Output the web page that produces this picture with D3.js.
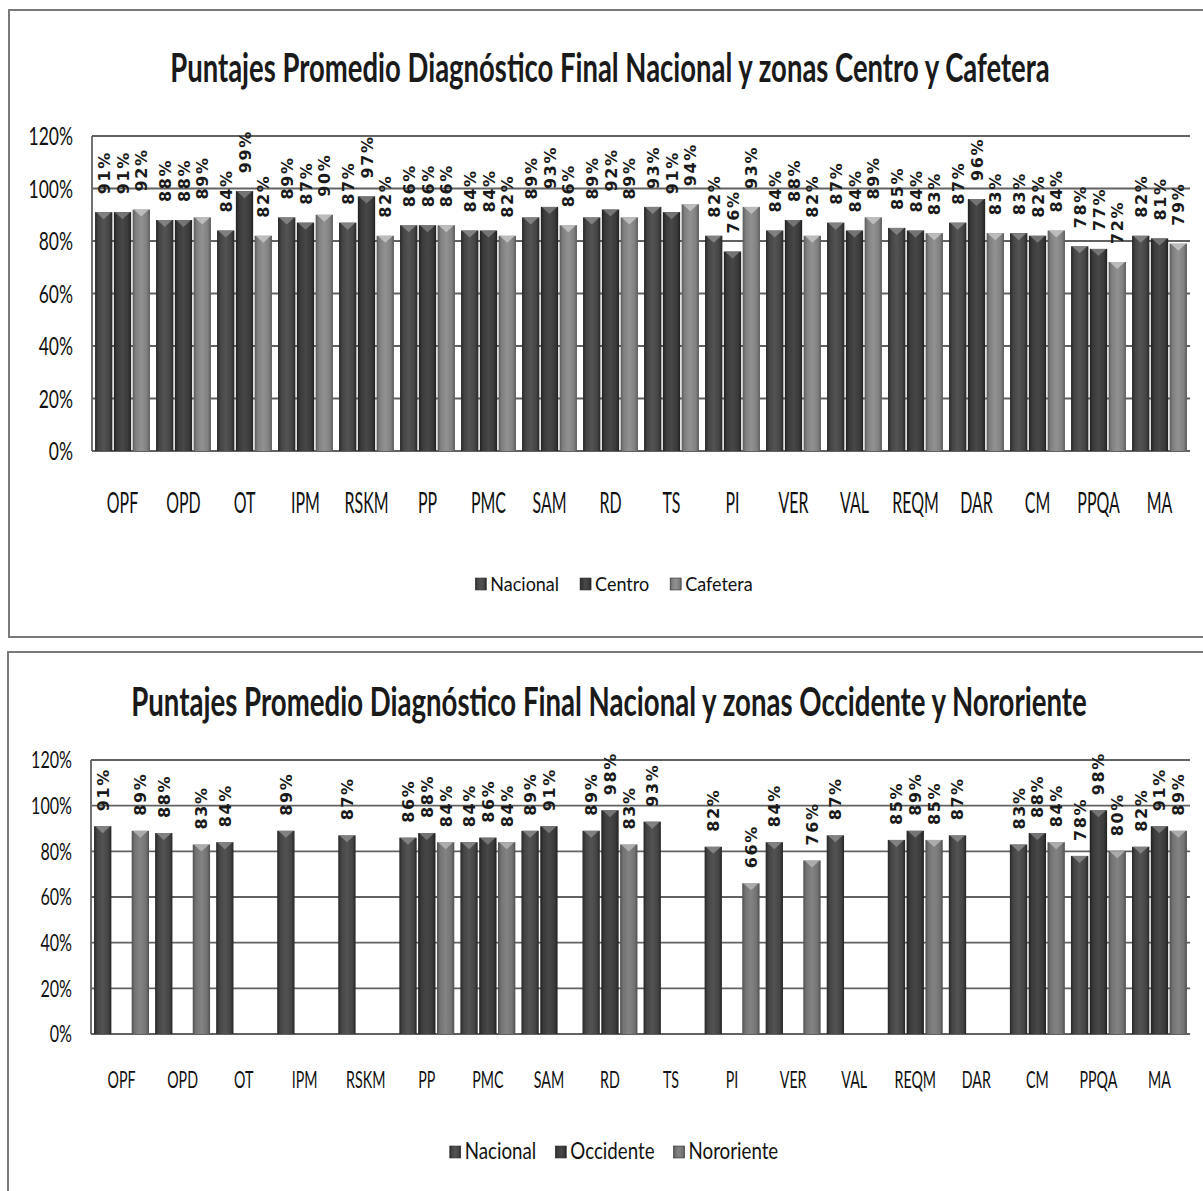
<!DOCTYPE html>
<html>
<head>
<meta charset="utf-8">
<script src="https://cdn.jsdelivr.net/npm/d3@7/dist/d3.min.js"></script>
<style>
  body { margin: 0; background: #fff; }
  svg { display: block; }
</style>
</head>
<body>
<svg id="chart" width="1203" height="1191"></svg>
<script>
// Process areas evaluated in the final diagnosis
const categories = ["OPF", "OPD", "OT", "IPM", "RSKM", "PP", "PMC", "SAM", "RD", "TS",
                    "PI", "VER", "VAL", "REQM", "DAR", "CM", "PPQA", "MA"];

// Average scores (%) — national and zones Centro / Cafetera
const seriesTop = ["Nacional", "Centro", "Cafetera"];
const nacional = [91, 88, 84, 89, 87, 86, 84, 89, 89, 93, 82, 84, 87, 85, 87, 83, 78, 82];
const centro   = [91, 88, 99, 87, 97, 86, 84, 93, 92, 91, 76, 88, 84, 84, 96, 82, 77, 81];
const cafetera = [92, 89, 82, 90, 82, 86, 82, 86, 89, 94, 93, 82, 89, 83, 83, 84, 72, 79];

// Average scores (%) — national and zones Occidente / Nororiente (null = not evaluated)
const seriesBottom = ["Nacional", "Occidente", "Nororiente"];
const occidente  = [null, null, null, null, null, 88, 86, 91, 98, null, null, null, null, 89, null, 88, 98, 91];
const nororiente = [89, 83, null, null, null, 84, 84, null, 83, null, 66, 76, null, 85, null, 84, 80, 89];

// Y axis ticks (%)
const yTicks = [0, 20, 40, 60, 80, 100, 120];

const titleTop = "Puntajes Promedio Diagnóstico Final Nacional y zonas Centro y Cafetera";
const titleBottom = "Puntajes Promedio Diagnóstico Final Nacional y zonas Occidente y Nororiente";

const svg = d3.select("#chart");
const defs = svg.append("defs");
const FONT = "Lato, 'Open Sans', sans-serif";

// Cylinder-like shading for each bar tone
function makeGradient(id, edge, mid, light) {
  const g = defs.append("linearGradient").attr("id", id)
    .attr("x1", "0%").attr("x2", "100%").attr("y1", "0%").attr("y2", "0%");
  [[0, edge], [0.18, mid], [0.5, light], [0.82, mid], [1, edge]].forEach(([o, c]) =>
    g.append("stop").attr("offset", o).attr("stop-color", c));
}
makeGradient("gNac", "#262626", "#444444", "#535353");
makeGradient("gDark", "#202020", "#3a3a3a", "#474747");
makeGradient("gLight", "#5a5a5a", "#808080", "#919191");
makeGradient("gMidLight", "#505050", "#737373", "#838383");

// Horizontally condensed text
function squeezed(parent, x, y, str, st, anchor) {
  const g = parent.append("g")
    .attr("transform", `translate(${x},${y}) scale(${st.sx},1)`);
  return g.append("text")
    .attr("text-anchor", anchor || "middle")
    .attr("font-family", st.family || FONT)
    .attr("font-size", st.size)
    .attr("font-weight", st.weight || "normal")
    .attr("fill", st.color || "#111")
    .text(str);
}

function drawPanel(cfg) {
  const root = svg.append("g");

  // panel frame
  root.append("rect")
    .attr("x", cfg.box.x).attr("y", cfg.box.y)
    .attr("width", cfg.box.w).attr("height", cfg.box.h)
    .attr("fill", "#fff").attr("stroke", "#7a7a7a").attr("stroke-width", 2);

  // title
  squeezed(root, cfg.titleX, cfg.titleY, cfg.title, cfg.titleStyle);

  const x0 = d3.scaleBand().domain(categories)
    .range([cfg.plot.left, cfg.plot.right]).paddingInner(0.1).paddingOuter(0.05);
  const x1 = d3.scaleBand().domain(d3.range(cfg.series.length))
    .range([0, x0.bandwidth()]).paddingInner(0.08);
  const y = d3.scaleLinear().domain([0, 120]).range([cfg.plot.bottom, cfg.plot.top]);

  // gridlines
  root.append("g").selectAll("line").data(yTicks).join("line")
    .attr("x1", cfg.plot.left).attr("x2", cfg.plot.right)
    .attr("y1", d => y(d)).attr("y2", d => y(d))
    .attr("stroke", "#626262").attr("stroke-width", 1.8);

  // value axis line
  root.append("line")
    .attr("x1", cfg.plot.left).attr("x2", cfg.plot.left)
    .attr("y1", y(120)).attr("y2", y(0))
    .attr("stroke", "#626262").attr("stroke-width", 1.8);

  // tick labels
  yTicks.forEach(t => {
    squeezed(root, cfg.plot.left - 19, y(t) + cfg.tickStyle.size * 0.36, t + "%", cfg.tickStyle, "end");
  });

  // category labels
  categories.forEach(c => {
    squeezed(root, x0(c) + x0.bandwidth() / 2, cfg.catY, c, cfg.catStyle);
  });

  // bars
  const barsG = root.append("g");
  const labelsG = root.append("g");
  categories.forEach((c, i) => {
    cfg.values.forEach((arr, s) => {
      const v = arr[i];
      if (v == null) return;
      const bx = x0(c) + x1(s);
      const bw = x1.bandwidth();
      const top = y(v);
      barsG.append("rect")
        .attr("x", bx).attr("y", top)
        .attr("width", bw).attr("height", y(0) - top)
        .attr("fill", `url(#${cfg.grads[s]})`);
      // bevel at the top of the bar
      barsG.append("path")
        .attr("d", `M${bx + 1},${top} L${bx + bw - 1},${top} L${bx + bw / 2},${top + 7} Z`)
        .attr("fill", cfg.bevel[s]).attr("opacity", 0.85);
      // value label, rotated
      const cx = bx + bw / 2;
      const ly = top - cfg.labelGap;
      labelsG.append("text")
        .attr("transform", `translate(${cx + 6},${ly}) rotate(-90)`)
        .attr("font-family", "'DejaVu Sans', sans-serif")
        .attr("font-weight", "bold")
        .attr("font-size", cfg.labelSize)
        .attr("letter-spacing", 1.6)
        .attr("fill", "#1a1a1a")
        .text(v + "%");
    });
  });

  // legend
  const lg = root.append("g");
  let lx = 0;
  cfg.series.forEach((name, s) => {
    const it = lg.append("g").attr("transform", `translate(${lx},0)`);
    it.append("rect").attr("x", 0).attr("y", -cfg.legendSq - 1)
      .attr("width", cfg.legendSq - 1).attr("height", cfg.legendSq)
      .attr("fill", `url(#${cfg.grads[s]})`).attr("stroke", "#333").attr("stroke-width", 0.6);
    const t = squeezed(it, cfg.legendSq + 3, 0, name, cfg.legendStyle, "start");
    const w = t.node().getComputedTextLength() * cfg.legendStyle.sx;
    lx += cfg.legendSq + 3 + w + cfg.legendGap;
  });
  const total = lx - cfg.legendGap;
  lg.attr("transform", `translate(${cfg.legendCx - total / 2},${cfg.legendY})`);
}

drawPanel({
  box: { x: 9, y: 10, w: 1220, h: 627 },
  plot: { left: 92, right: 1190, top: 136, bottom: 451 },
  title: titleTop, titleX: 610, titleY: 82,
  titleStyle: { size: 41, sx: 0.67, weight: "bold", color: "#1a1a1a" },
  tickStyle: { size: 25, sx: 0.7 },
  catStyle: { size: 28, sx: 0.57 },
  catY: 513,
  series: seriesTop,
  values: [nacional, centro, cafetera],
  grads: ["gNac", "gDark", "gLight"],
  bevel: ["#8a8a8a", "#7c7c7c", "#c4c4c4"],
  labelGap: 18, labelSize: 16,
  legendY: 591, legendCx: 614, legendSq: 12, legendGap: 21,
  legendStyle: { size: 20, sx: 0.9 }
});

drawPanel({
  box: { x: 8, y: 652, w: 1220, h: 560 },
  plot: { left: 91, right: 1190, top: 760, bottom: 1034 },
  title: titleBottom, titleX: 609, titleY: 716,
  titleStyle: { size: 41, sx: 0.673, weight: "bold", color: "#1a1a1a" },
  tickStyle: { size: 23, sx: 0.7 },
  catStyle: { size: 23, sx: 0.62 },
  catY: 1088,
  series: seriesBottom,
  values: [nacional, occidente, nororiente],
  grads: ["gNac", "gDark", "gMidLight"],
  bevel: ["#8a8a8a", "#7c7c7c", "#b4b4b4"],
  labelGap: 15, labelSize: 16,
  legendY: 1159, legendCx: 614, legendSq: 12, legendGap: 19,
  legendStyle: { size: 24, sx: 0.78 }
});
</script>
</body>
</html>
